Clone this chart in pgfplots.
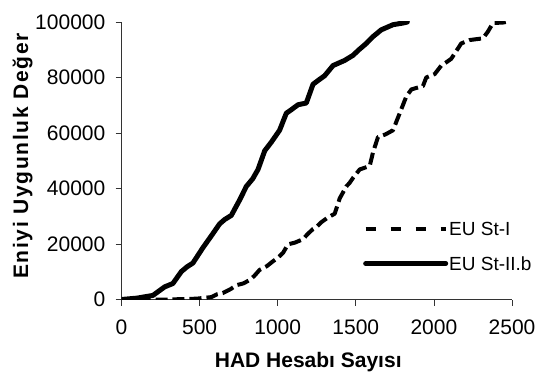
\documentclass[border=0pt]{standalone}
\usepackage{pgfplots}
\pgfplotsset{compat=1.18}
\usepackage{fontspec}
\setmainfont{Liberation Sans}
\newfontfamily\ylabfont[LetterSpace=8]{Liberation Sans}
\begin{document}
\begin{tikzpicture}[x=1bp,y=1bp]
\begin{axis}[
  at={(121.5bp,74.5bp)}, anchor=south west,
  scale only axis, width=390.5bp, height=277.5bp,
  xmin=0, xmax=2500, ymin=0, ymax=100000,
  xtick={0,500,1000,1500,2000,2500},
  ytick={0,20000,40000,60000,80000,100000},
  axis x line*=bottom, axis y line*=left,
  axis line style={line width=0.8bp, black!80},
  tick style={line width=0.8bp, black!80},
  tick align=outside, major tick length=6bp,
  scaled ticks=false,
  /pgf/number format/fixed,
  /pgf/number format/assume math mode=true,
  /pgf/number format/set thousands separator={},
  ticklabel style={font=\fontsize{21bp}{23bp}\selectfont, inner sep=0pt},
  yticklabel style={anchor=east, xshift=-10bp},
  xticklabel style={anchor=north, yshift=-14bp},
  xlabel={HAD Hesabı Sayısı},
  ylabel={\ylabfont\bfseries Eniyi Uygunluk Değer},
  label style={font=\fontsize{21bp}{24bp}\selectfont\bfseries},
  xlabel style={at={(axis description cs:0.5,0)}, anchor=base, yshift=-67.5bp, xshift=-8.5bp},
  ylabel style={at={(axis description cs:-0.2535,0.517)}, anchor=center},
  legend style={at={(0.6184,0.285)}, anchor=north west, draw=none, fill=none,
    inner sep=0pt, row sep=19bp, font=\fontsize{19bp}{22bp}\selectfont,
    nodes={inner sep=1bp, text height=14bp, text depth=0bp}},
  legend cell align=left,
  clip=true,
]
\addplot[black, line width=4bp, line join=round, dash pattern=on 12bp off 5bp,
  legend image code/.code={\draw[black, line width=4bp, dash pattern=on 10bp off 15bp] (0bp,0bp) -- (80bp,0bp);}]
coordinates {
(0,0) (150,0) (300,0) (480,300) (575,860) (612,1900) (649,2330) (700,3800) (735,5150) (780,5800) (820,6990)
(850,8500) (884,10670) (930,12000) (969,13740) (1000,15000) (1034,16810) (1066,19880)
(1110,20500) (1162,21720) (1190,23500) (1226,25400) (1250,26200) (1279,27850) (1320,29500) (1365,30920)
(1397,36440) (1439,40740) (1460,42000) (1482,43800) (1525,46870) (1589,48100)
(1610,53000) (1642,58530) (1690,59500) (1738,60980) (1781,67120) (1824,73250) (1856,75710)
(1930,76930) (1951,80000) (2005,81230) (2047,84290) (2080,85500) (2111,86750)
(2175,92270) (2229,93500) (2314,94110) (2346,96560) (2378,99630) (2442,99800) (2460,100000)
};
\addlegendentry{EU St-I}
\addplot[black, line width=5bp, line join=round, line cap=round,
  legend image code/.code={\draw[black, line width=5bp, line cap=round] (0bp,0bp) -- (80bp,0bp);}]
coordinates {
(0,0) (100,500) (201,1470) (276,4540) (329,5770) (383,10060) (420,11800) (457,13130)
(521,18650) (575,22940) (628,27240) (660,28800) (703,30300) (756,35830) (799,40740)
(840,43500) (874,46870) (917,53620) (959,56690) (1012,60980) (1055,67120) (1090,68500)
(1130,70180) (1183,70800) (1226,77550) (1260,79000) (1300,80610) (1354,84290)
(1428,86140) (1482,87980) (1520,90000) (1567,92270) (1610,94720) (1663,97180)
(1738,99020) (1802,99630) (1830,100000)
};
\addlegendentry{EU St-II.b}
\end{axis}
\pgfresetboundingbox
\path[use as bounding box] (0,0) rectangle (537,374);
\end{tikzpicture}
\end{document}
